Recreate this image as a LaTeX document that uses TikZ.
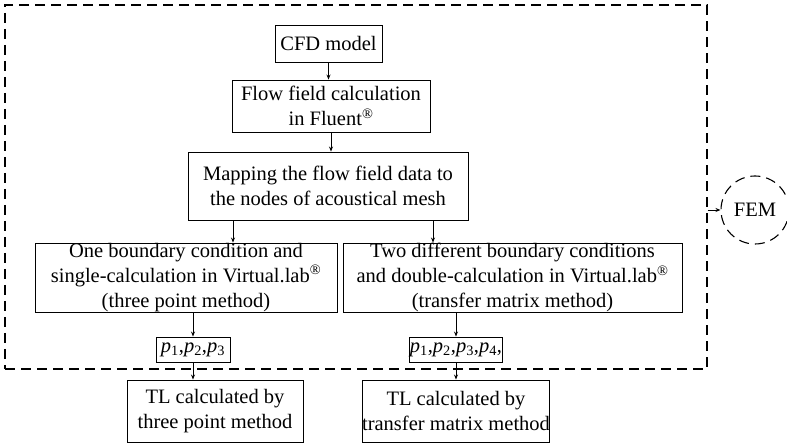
\documentclass[tikz,border=0pt]{standalone}
\usepackage{fontspec}
\setmainfont{Liberation Serif}
\usetikzlibrary{arrows.meta,positioning}

\begin{document}
\begin{tikzpicture}[x=1pt,y=-1pt,
  box/.style={draw,line width=0.9pt,inner sep=0pt,align=center,
    font=\fontsize{20.5}{25}\selectfont},
  arr/.style={line width=0.9pt,-{Stealth[length=5pt,width=4pt]}},
  femline/.style={line width=1.1pt,dash pattern=on 10pt off 6pt}]

  \useasboundingbox (0,0) rectangle (787,443);

  % the FEM part
  \node[femline,draw,minimum width=702pt,minimum height=364pt] (fembox) at (356,187) {};
  \node[femline,draw,circle,minimum size=68pt,inner sep=0pt,
    font=\fontsize{20.5}{25}\selectfont] (fem) at (755,210) {FEM};

  \node[box,minimum width=107pt,minimum height=37pt] (cfd) at (328.5,43.5) {CFD model};
  \node[box,minimum width=198pt,minimum height=52pt] (flow) at (331,106)
    {Flow field calculation\\in Fluent\textsuperscript{\textregistered}};
  \node[box,minimum width=280pt,minimum height=68pt] (map) at (328,186)
    {Mapping the flow field data to\\the nodes of acoustical mesh};
  \node[box,minimum width=302pt,minimum height=69pt] (left) at (186,277.5)
    {One boundary condition and\\single-calculation in Virtual.lab\textsuperscript{\textregistered}\\(three point method)};
  \node[box,minimum width=339pt,minimum height=69pt] (right) at (512.5,277.5)
    {Two different boundary conditions\\and double-calculation in Virtual.lab\textsuperscript{\textregistered}\\(transfer matrix method)};
  \node[box,minimum width=74pt,minimum height=25pt] (p3) at (193,349.5)
    {\textit{p}\textsubscript{1},\textit{p}\textsubscript{2},\textit{p}\textsubscript{3}};
  \node[box,minimum width=88pt,minimum height=25pt] (p4) at (456,349.5)
    {\textit{p}\textsubscript{1},\textit{p}\textsubscript{2},\textit{p}\textsubscript{3},\textit{p}\textsubscript{4},};
  \node[box,minimum width=176pt,minimum height=62pt] (tl1) at (215,411)
    {TL calculated by\\three point method};
  \node[box,minimum width=178pt,minimum height=62pt] (tl2) at (456,411)
    {TL calculated by\\transfer matrix method};

  \coordinate (c1) at (233,0);
  \coordinate (c2) at (433,0);

  \draw[arr] (cfd.south) -- (cfd.south |- flow.north);
  \draw[arr] (flow.south) -- (flow.south |- map.north);
  \draw[arr] (map.south -| c1) -- (left.north -| c1);
  \draw[arr] (map.south -| c2) -- (right.north -| c2);
  \draw[arr] (left.south -| p3.north) -- (p3.north);
  \draw[arr] (right.south -| p4.north) -- (p4.north);
  \draw[arr] (p3.south) -- (p3.south |- tl1.north);
  \draw[arr] (p4.south) -- (p4.south |- tl2.north);
  \draw[arr] (fembox.east |- fem.west) -- (fem.west);

\end{tikzpicture}
\end{document}
